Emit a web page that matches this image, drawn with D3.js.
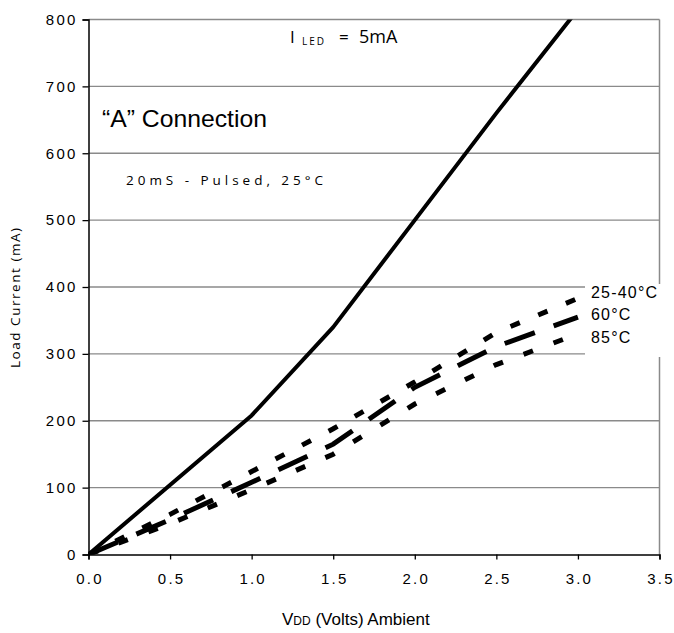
<!DOCTYPE html>
<html>
<head>
<meta charset="utf-8">
<script src="https://cdn.jsdelivr.net/npm/d3@7"></script>
<style>
  html, body { margin: 0; padding: 0; background: #fff; }
  svg { display: block; }
</style>
</head>
<body>
<svg id="chart" width="674" height="633"></svg>
<script>
// ---- data ----
const voltage = [0, 0.5, 1.0, 1.5, 2.0, 2.5, 3.0];
const solidVolts = [0, 1.0, 1.5, 2.0, 2.5, 3.0];
const solidCurrent = [0, 208, 340, 500, 660, 815];
const current25to40 = [0, 60, 124, 188, 258, 332, 383];
const current60 = [0, 52, 108, 165, 250, 311, 355];
const current85 = [0, 46, 97, 150, 225, 284, 330];
const seriesNames = ["25-40°C", "60°C", "85°C"];
const xTickValues = [0, 0.5, 1.0, 1.5, 2.0, 2.5, 3.0, 3.5];
const yTickValues = [0, 100, 200, 300, 400, 500, 600, 700, 800];

// ---- layout ----
const svg = d3.select("#chart");
const x = d3.scaleLinear().domain([0, 3.5]).range([88.5, 659.5]);
const y = d3.scaleLinear().domain([0, 800]).range([554.5, 19.5]);

svg.append("defs").append("clipPath").attr("id", "plotclip")
  .append("rect").attr("x", x(0)).attr("y", y(800))
  .attr("width", x(3.5) - x(0)).attr("height", y(0) - y(800));

// gridlines
svg.append("g").selectAll("line").data(yTickValues.filter(d => d > 0)).join("line")
  .attr("x1", x(0)).attr("x2", x(3.5))
  .attr("y1", d => y(d)).attr("y2", d => y(d))
  .attr("stroke", "#8a8a8a").attr("stroke-width", 1.3);
// right border
svg.append("line").attr("x1", x(3.5)).attr("x2", x(3.5))
  .attr("y1", y(800)).attr("y2", y(0))
  .attr("stroke", "#8a8a8a").attr("stroke-width", 1.5);

// axes
const yAxis = d3.axisLeft(y).tickValues(yTickValues).tickSize(6).tickPadding(8)
  .tickFormat(d3.format("d"));
const gy = svg.append("g").attr("transform", `translate(${x(0)},0)`).call(yAxis);
gy.select(".domain").attr("stroke", "#000").attr("stroke-width", 1.5);
gy.selectAll(".tick line").attr("stroke", "#000").attr("stroke-width", 1.3);
gy.selectAll(".tick text")
  .attr("font-family", "'Liberation Sans', Arial, sans-serif")
  .attr("font-size", 15).attr("letter-spacing", "2.2px").attr("fill", "#000")
  .attr("dx", "3px");

const xAxis = d3.axisBottom(x).tickValues(xTickValues).tickSize(5).tickPadding(14)
  .tickFormat(d3.format(".1f"));
const gx = svg.append("g").attr("transform", `translate(0,${y(0)})`).call(xAxis);
gx.select(".domain").attr("stroke", "#000").attr("stroke-width", 1.5);
gx.selectAll(".tick line").attr("stroke", "#000").attr("stroke-width", 1.3);
gx.selectAll(".tick text")
  .attr("font-family", "'Liberation Sans', Arial, sans-serif")
  .attr("font-size", 15).attr("letter-spacing", "2.2px").attr("fill", "#000")
  .attr("dx", "1px");

// lines
const lineGen = d3.line().x(d => x(d[0])).y(d => y(d[1]));
const plot = svg.append("g").attr("clip-path", "url(#plotclip)");

const dashedSeries = [
  { name: seriesNames[0], values: current25to40, dash: "10,20" },
  { name: seriesNames[1], values: current60, dash: "32,20" },
  { name: seriesNames[2], values: current85, dash: "10,22" }
];
dashedSeries.forEach(s => {
  plot.append("path")
    .datum(voltage.map((v, i) => [v, s.values[i]]))
    .attr("d", lineGen)
    .attr("fill", "none").attr("stroke", "#000")
    .attr("stroke-width", 5).attr("stroke-dasharray", s.dash)
    .attr("stroke-linecap", "butt");
});

plot.append("path")
  .datum(solidVolts.map((v, i) => [v, solidCurrent[i]]))
  .attr("d", lineGen)
  .attr("fill", "none").attr("stroke", "#000")
  .attr("stroke-width", 4).attr("stroke-linejoin", "round");

// legend box (white background covering grid)
svg.append("rect").attr("x", 585).attr("y", 284).attr("width", 89).attr("height", 73)
  .attr("fill", "#fff");
const legY = [292, 314, 337];
svg.append("g").selectAll("text").data(seriesNames).join("text")
  .attr("x", 591).attr("y", (d, i) => legY[i]).attr("dy", "0.35em")
  .attr("font-family", "'Liberation Sans', Arial, sans-serif")
  .attr("font-size", 16).attr("letter-spacing", "1.2px")
  .text(d => d);

// annotations
const annFont = "'Open Sans', 'DejaVu Sans', sans-serif";
svg.append("text").attr("x", 290).attr("y", 43).attr("font-family", annFont)
  .attr("font-size", 17).text("I");
svg.append("text").attr("x", 302).attr("y", 45).attr("font-family", annFont)
  .attr("font-size", 10).attr("letter-spacing", "2px").text("LED");
svg.append("text").attr("x", 339).attr("y", 43).attr("font-family", annFont)
  .attr("font-size", 17).text("=");
svg.append("text").attr("x", 359).attr("y", 43).attr("font-family", annFont)
  .attr("font-size", 18).text("5mA");

svg.append("text").attr("x", 102).attr("y", 127)
  .attr("font-family", "'Liberation Sans', Arial, sans-serif")
  .attr("font-size", 24).attr("textLength", 165).attr("lengthAdjust", "spacingAndGlyphs")
  .text("“A” Connection");

svg.append("text").attr("x", 126).attr("y", 185)
  .attr("font-family", annFont)
  .attr("font-size", 13.5).attr("textLength", 197).attr("lengthAdjust", "spacing")
  .text("20mS - Pulsed, 25°C");

// axis titles
svg.append("text")
  .attr("transform", "translate(20,298) rotate(-90)")
  .attr("text-anchor", "middle")
  .attr("font-family", annFont)
  .attr("font-size", 13.5).attr("textLength", 140).attr("lengthAdjust", "spacing")
  .text("Load Current (mA)");

const tX = svg.append("text").attr("x", 282).attr("y", 625)
  .attr("font-family", "'Liberation Sans', Arial, sans-serif").attr("fill", "#000");
tX.append("tspan").attr("font-size", 17).text("V");
tX.append("tspan").attr("font-size", 12).text("DD");
tX.append("tspan").attr("font-size", 17).text(" (Volts) Ambient");
</script>
</body>
</html>
